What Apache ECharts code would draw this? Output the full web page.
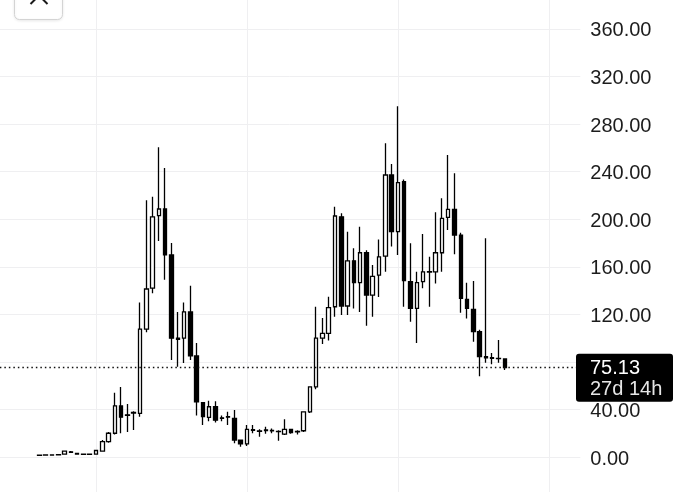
<!DOCTYPE html>
<html>
<head>
<meta charset="utf-8">
<script src="https://cdn.jsdelivr.net/npm/echarts@6/dist/echarts.min.js"></script>
<style>
html,body{margin:0;padding:0;background:#ffffff;}
#chart{width:680px;height:492px;}
</style>
</head>
<body>
<div id="chart"></div>
<script>
// ---- data (weekly candles) ----
const weeks = ['W1','W2','W3','W4','W5','W6','W7','W8','W9','W10','W11','W12','W13','W14','W15','W16','W17','W18','W19','W20',
  'W21','W22','W23','W24','W25','W26','W27','W28','W29','W30','W31','W32','W33','W34','W35','W36','W37','W38','W39','W40',
  'W41','W42','W43','W44','W45','W46','W47','W48','W49','W50','W51','W52','W53','W54','W55','W56','W57','W58','W59','W60',
  'W61','W62','W63','W64','W65','W66','W67','W68','W69','W70','W71','W72','W73','W74','W75'];
const opens  = [1.5,1.6,1.7,1.8,2.5,4.4,3.0,2.5,2.3,2.5, 5.0,13.0,20.0,43.0,35.5,37.0,36.7,107.6,142.0,203.0,
  208.6,170.0,100.0,100.0,122.0,85.0,45.7,33.4,42.3,33.0, 34.0,32.5,14.3,11.0,22.5,22.0,22.8,22.0,21.5,19.3,
  23.3,21.5,22.1,38.0,59.0,100.0,104.0,126.4,202.0,127.0, 165.0,146.6,171.8,136.2,153.0,169.0,237.2,189.5,231.5,147.5,
  125.0,147.5,155.5,155.8,171.8,201.6,208.3,186.7,132.6,124.2, 105.4,84.4,83.5,83.0,82.5];
const closes = [1.6,1.7,1.8,2.0,5.0,4.0,2.5,2.3,2.4,5.5, 13.0,20.0,43.0,33.5,35.0,37.5,107.6,141.3,202.0,208.6,
  170.0,100.0,99.0,122.0,85.0,46.5,34.0,42.3,31.0,32.5, 33.5,14.3,11.0,23.3,23.0,21.7,22.2,22.5,21.3,23.3,
  20.5,21.2,38.0,59.0,100.0,104.0,125.6,202.7,127.0,165.0, 146.6,171.8,136.2,152.0,168.3,237.2,189.5,230.7,148.3,125.0,
  146.6,155.8,156.0,171.8,200.7,208.3,186.7,133.5,125.0,105.4, 84.4,83.5,83.0,82.8,75.13];
const lows   = [1.3,1.5,1.6,1.7,2.3,3.5,2.3,2.1,2.1,2.3, 4.5,12.0,19.0,20.0,21.0,22.7,33.9,105.0,137.7,181.7,
  149.0,81.6,76.0,79.0,81.6,35.0,27.0,30.0,29.0,30.0, 27.0,11.5,8.7,9.3,20.0,17.0,19.5,20.0,13.7,18.5,
  19.5,19.0,21.0,37.0,57.0,95.0,98.0,118.0,119.4,119.4, 125.0,122.0,110.4,118.0,134.5,155.8,177.0,170.0,126.4,113.8,
  96.0,142.0,126.4,146.0,155.8,191.0,170.5,121.4,116.6,97.0, 68.0,79.3,78.0,79.3,73.2];
const highs  = [1.8,1.9,2.0,2.2,5.5,5.0,3.2,2.7,2.6,6.0, 14.3,21.0,54.0,59.0,44.6,38.5,130.0,216.0,219.0,260.5,
  243.0,180.0,122.0,130.0,144.0,96.0,46.0,47.3,47.0,35.0, 38.0,39.5,14.8,27.0,27.0,23.3,25.5,24.0,22.5,31.7,
  23.5,22.5,38.5,59.5,126.4,117.0,134.8,210.5,205.0,189.5, 175.5,193.7,174.0,161.5,183.0,263.8,246.4,295.0,233.5,179.7,
  155.8,187.5,168.5,205.8,217.6,254.0,238.6,188.6,146.6,148.0, 107.0,184.0,87.5,98.4,83.0];
const yTickValues = [0,40,80,120,160,200,240,280,320,360];
const countdownText = '27d 14h';

// empty slots on the time axis before and after the data
const leadSlots = 7;
const tailSlots = 12;
const gridEvery = 24; // weeks between vertical grid lines
const gridFirstWeek = 9;

const categories = [];
for (let i = 0; i < leadSlots; i++) categories.push('pre' + (i + 1));
weeks.forEach(w => categories.push(w));
for (let i = 0; i < tailSlots; i++) categories.push('post' + (i + 1));

const candleData = weeks.map((w, i) => [leadSlots + i, opens[i], closes[i], lows[i], highs[i]]);
const lastClose = closes[closes.length - 1];

const FONT = '"Liberation Sans", Arial, sans-serif';

const chart = echarts.init(document.getElementById('chart'), null, {renderer: 'canvas'});

chart.setOption({
  animation: false,
  backgroundColor: '#ffffff',
  grid: {
    left: -4.64, right: 99.7, top: -18.6, bottom: -12.6,
    outerBoundsMode: 'none', containLabel: false
  },
  xAxis: {
    type: 'category',
    data: categories,
    boundaryGap: false,
    axisLine: {show: false},
    axisTick: {show: false},
    axisLabel: {show: false},
    splitLine: {
      show: true,
      interval: function (index) {
        const k = index - (leadSlots + gridFirstWeek);
        return k >= 0 && k % gridEvery === 0;
      },
      lineStyle: {color: '#efeff1', width: 1}
    }
  },
  yAxis: {
    type: 'value',
    position: 'right',
    min: -40, max: 400, interval: 40,
    scale: false,
    axisLine: {show: false},
    axisTick: {show: false},
    splitLine: {show: true, lineStyle: {color: '#efeff1', width: 1}},
    axisLabel: {
      show: true,
      margin: 10,
      align: 'left',
      verticalAlign: 'top',
      lineHeight: 4,
      color: '#1c1c1c',
      fontSize: 20,
      fontFamily: FONT,
      formatter: function (v) {
        // the tick hidden under the last-price tag is not drawn
        if (Math.abs(v - lastClose) < 15) return '';
        return yTickValues.indexOf(v) >= 0 ? v.toFixed(2) : '';
      }
    }
  },
  series: [{
    type: 'candlestick',
    data: candleData,
    encode: {x: 0, y: [1, 2, 3, 4]},
    barWidth: 4,
    itemStyle: {
      color: '#ffffff',
      color0: '#000000',
      borderColor: '#000000',
      borderColor0: '#000000',
      borderColorDoji: '#000000',
      borderWidth: 1.3
    },
    emphasis: {disabled: true},
    markLine: {
      silent: true,
      symbol: ['none', 'none'],
      label: {show: false},
      lineStyle: {color: '#111111', width: 1.4, type: [1.5, 3]},
      data: [{yAxis: lastClose}]
    }
  }]
});

const py = chart.convertToPixel({yAxisIndex: 0}, lastClose);

chart.setOption({
  graphic: [
    // close button in the top-left corner
    {
      type: 'rect', z: 100,
      shape: {x: 14.5, y: -20, width: 48, height: 39.5, r: 5},
      style: {fill: '#ffffff', stroke: '#d4d4d4', lineWidth: 1, shadowBlur: 3, shadowColor: 'rgba(0,0,0,0.08)', shadowOffsetY: 1}
    },
    {type: 'line', z: 101, shape: {x1: 30.5, y1: -13, x2: 47.5, y2: 4}, style: {stroke: '#1a1a1a', lineWidth: 2}},
    {type: 'line', z: 101, shape: {x1: 47.5, y1: -13, x2: 30.5, y2: 4}, style: {stroke: '#1a1a1a', lineWidth: 2}},
    // last price label
    {
      type: 'rect', z: 100,
      shape: {x: 576, y: py - 14, width: 97, height: 48, r: 3},
      style: {fill: '#000000'}
    },
    {
      type: 'text', z: 101,
      style: {text: lastClose.toFixed(2), x: 590, y: py + 1, fill: '#ffffff', fontSize: 20, fontFamily: FONT, verticalAlign: 'middle', align: 'left'}
    },
    {
      type: 'text', z: 101,
      style: {text: countdownText, x: 590, y: py + 22, fill: '#e6e6e6', fontSize: 20, fontFamily: FONT, verticalAlign: 'middle', align: 'left'}
    }
  ]
});
</script>
</body>
</html>
